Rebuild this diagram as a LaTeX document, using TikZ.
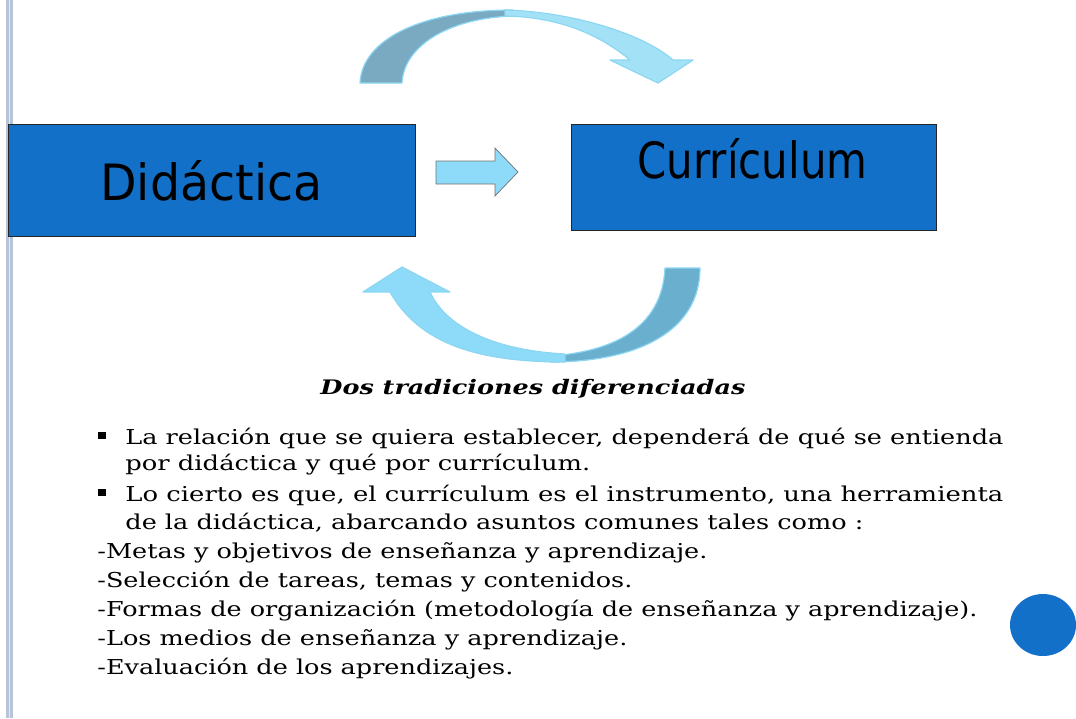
\documentclass[tikz,border=0pt]{standalone}
\usepackage{fontspec}
\usepackage{graphicx}
\newfontfamily\boxfont{DejaVu Sans}
\newfontfamily\textserif{DejaVu Serif}
\usetikzlibrary{positioning}
\definecolor{boxblue}{RGB}{18,112,200}
\definecolor{lightarrow}{RGB}{163,226,246}
\definecolor{lightarrowb}{RGB}{141,219,248}
\definecolor{darkarrow}{RGB}{122,170,194}
\definecolor{darkarrowb}{RGB}{107,175,207}
\definecolor{arrowedge}{RGB}{140,214,242}
\definecolor{railgray}{RGB}{184,196,216}
\newcommand{\wline}[2]{\resizebox{#1pt}{\height}{#2}}

\begin{document}
\begin{tikzpicture}[x=1pt, y=-1pt, thick,
    box/.style={draw=black!85, line width=0.8pt, fill=boxblue, inner sep=0},
    boxtext/.style={anchor=base west, inner sep=0, font=\boxfont\fontsize{50}{60}\selectfont},
    body/.style={anchor=base west, inner sep=0, font=\textserif\fontsize{20.5}{24}\selectfont},
    sqbullet/.style={fill=black, inner sep=0, minimum size=7.5pt},
    curvedband/.style={draw=arrowedge, line width=1.2pt, line join=round}]
      \useasboundingbox (0,0) rectangle (1076,718);
      \fill[railgray] (6,0) rectangle (13,718);
      \fill[railgray!40] (8.8,0) rectangle (10.4,718);

      \node [box, minimum width=407pt, minimum height=112pt, name=did] at (211.5,180) {};
      \node [box, minimum width=365pt, minimum height=106pt, name=cur] at (753.5,177) {};
      \node [boxtext, name=didlbl] at (100,200) {\wline{222}{Didáctica}};
      \node [boxtext, name=curlbl] at (637,178) {\wline{230}{Currículum}};

      \draw [fill=lightarrowb, draw=black!55, line width=0.7pt] (436,161) -- (495,161) -- (495,148)
        -- (518,172) -- (495,196) -- (495,184) -- (436,184) -- cycle;

      % arrow over the boxes
      \draw [curvedband, fill=darkarrow] (360,83) .. controls (362,40) and (420,10) .. (513,10)
        -- (513,16) .. controls (450,18) and (404,45) .. (402,83) -- cycle;
      \draw [curvedband, fill=lightarrow] (505,10) .. controls (575,12) and (645,35) .. (673,60)
        -- (693,60) -- (658,83) -- (610,60) -- (630,60)
        .. controls (600,35) and (560,17) .. (505,16) -- cycle;

      % arrow under the boxes
      \draw [curvedband, fill=darkarrowb] (700,268) .. controls (700,330) and (640,362) .. (550,362)
        -- (550,356) .. controls (610,352) and (662,330) .. (665,268) -- cycle;
      \draw [curvedband, fill=lightarrowb] (390,292) .. controls (420,345) and (480,362) .. (565,362)
        -- (565,354) .. controls (490,350) and (445,325) .. (430,292)
        -- (450,292) -- (402,267) -- (363,292) -- cycle;

      \node [body, font=\textserif\bfseries\itshape\fontsize{20}{24}\selectfont, name=title] at (320,394)
        {\wline{425}{Dos tradiciones diferenciadas}};

      \node [sqbullet, name=b1] at (102,435.5) {};
      \node [body, name=l1] at (125,444) {\wline{878}{La relación que se quiera establecer, dependerá de qué se entienda}};
      \node [body, name=l2] at (125,470) {\wline{465}{por didáctica y qué por currículum.}};
      \node [sqbullet, name=b2] at (102,492.5) {};
      \node [body, name=l3] at (125,501) {\wline{878}{Lo cierto es que, el currículum es el instrumento, una herramienta}};
      \node [body, name=l4] at (125,529) {\wline{738}{de la didáctica, abarcando asuntos comunes tales como :}};
      \node [body, name=m1] at (97,558) {\wline{610}{-Metas y objetivos de enseñanza y aprendizaje.}};
      \node [body, name=m2] at (97,587) {\wline{535}{-Selección de tareas, temas y contenidos.}};
      \node [body, name=m3] at (97,616) {\wline{880}{-Formas de organización (metodología de enseñanza y aprendizaje).}};
      \node [body, name=m4] at (97,645) {\wline{530}{-Los medios de enseñanza y aprendizaje.}};
      \node [body, name=m5] at (97,674) {\wline{416}{-Evaluación de los aprendizajes.}};

      \fill [boxblue] (1043,625) ellipse (33 and 31);
    \end{tikzpicture}
\end{document}
